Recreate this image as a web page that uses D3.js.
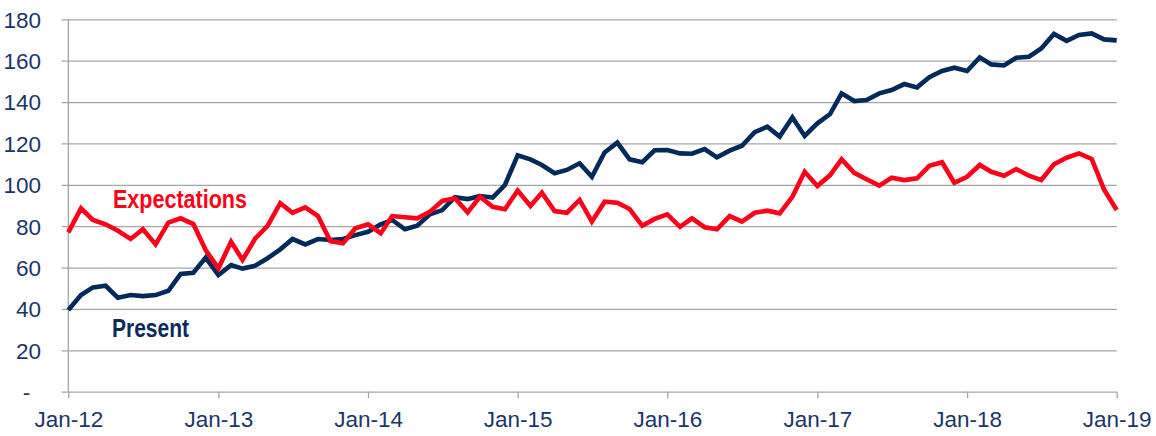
<!DOCTYPE html>
<html>
<head>
<meta charset="utf-8">
<script src="https://cdn.jsdelivr.net/npm/d3@7"></script>
<style>
  html, body { margin: 0; padding: 0; background: #fff; }
  svg { display: block; }
  .tick-label { font-family: "Liberation Sans Narrow", "Arial Narrow", "Liberation Sans", sans-serif; }
</style>
</head>
<body>
<svg id="chart" width="1156" height="436"></svg>
<script>
// ---- Data ----
const startYear = 2012;
const startMonth = 0;
const monthCount = 85; // Jan-12 .. Jan-19

const presentValues = [
  39.5, 46.7, 50.4, 51.2, 45.4, 46.7, 46.2, 46.7, 48.8, 56.9, 57.5, 64.8,
  56.4, 61.2, 59.5, 60.9, 64.5, 68.8, 73.8, 71.2, 73.8, 73.3, 73.8, 75.7,
  77.3, 80.9, 83.0, 78.5, 80.2, 85.7, 87.8, 94.0, 93.1, 94.6, 93.8, 99.9,
  114.3, 112.3, 109.6, 105.6, 107.2, 110.4, 103.9, 115.6, 120.4, 112.3, 110.9, 116.7,
  116.8, 115.2, 115.0, 117.3, 113.3, 116.5, 118.9, 125.4, 128.1, 123.3, 132.6, 123.6,
  129.7, 134.2, 144.2, 140.5, 141.0, 144.2, 145.8, 148.7, 147.1, 152.0, 155.0, 156.6,
  155.0, 161.6, 158.2, 157.7, 161.4, 161.9, 165.9, 172.9, 169.6, 172.4, 173.2, 170.3,
  169.8
];

const expectationsValues = [
  77.0, 88.6, 83.0, 80.9, 77.8, 73.8, 78.5, 71.2, 81.7, 83.8, 81.0, 68.5,
  59.6, 72.5, 63.7, 74.1, 80.2, 91.1, 86.5, 89.1, 84.9, 72.8, 71.7, 79.0,
  80.9, 76.6, 84.9, 84.3, 83.8, 87.0, 92.2, 93.5, 86.7, 94.2, 89.4, 88.2,
  97.2, 89.8, 96.2, 87.3, 86.5, 92.7, 82.2, 91.8, 91.3, 88.3, 80.2, 83.5,
  85.7, 79.7, 83.8, 79.5, 78.5, 84.9, 82.2, 86.5, 87.5, 86.2, 94.2, 106.3,
  99.4, 104.7, 112.3, 105.8, 102.7, 99.6, 103.4, 102.3, 103.1, 109.2, 110.9, 101.0,
  103.9, 109.6, 106.3, 104.4, 107.6, 104.4, 102.3, 109.9, 113.1, 115.2, 112.5, 97.8,
  87.8
];

const yTickValues = [0, 20, 40, 60, 80, 100, 120, 140, 160, 180];
const xTickLabels = ["Jan-12", "Jan-13", "Jan-14", "Jan-15", "Jan-16", "Jan-17", "Jan-18", "Jan-19"];

const seriesNames = ["Present", "Expectations"];

// ---- Layout ----
const W = 1156, H = 436;
const margin = { top: 19.3, right: 39.3, bottom: 44.3, left: 68.3 };
const innerW = W - margin.left - margin.right;
const innerH = H - margin.top - margin.bottom;

const navy = "#002a5c";
const red = "#ff0018";
const textNavy = "#1a3668";
const gridColor = "#a6a6a6";

const dates = d3.range(monthCount).map(i => new Date(startYear, startMonth + i, 1));
const xTickDates = xTickLabels.map((_, i) => new Date(startYear + i, 0, 1));

const svg = d3.select("#chart");
const g = svg.append("g").attr("transform", `translate(${margin.left},${margin.top})`);

const x = d3.scaleTime().domain([dates[0], dates[dates.length - 1]]).range([0, innerW]);
const y = d3.scaleLinear().domain([0, 180]).range([innerH, 0]);

// Gridlines + y axis
const yAxis = d3.axisLeft(y)
  .tickValues(yTickValues)
  .tickSize(-innerW)
  .tickSizeOuter(0)
  .tickPadding(27)
  .tickFormat(d => d === 0 ? "-" : d);

const yG = g.append("g").call(yAxis);
yG.select(".domain").remove();
yG.selectAll(".tick line")
  .attr("x1", -6.6)
  .attr("stroke", gridColor)
  .attr("stroke-width", 1.3);
yG.selectAll(".tick text")
  .attr("class", "tick-label")
  .attr("fill", textNavy)
  .attr("font-size", 22.5)
  .attr("dy", "0.35em")
  .attr("x", d => d === 0 ? -38 : -27.3);

// y axis vertical line
g.append("line")
  .attr("x1", 0).attr("x2", 0)
  .attr("y1", 0).attr("y2", innerH)
  .attr("stroke", gridColor)
  .attr("stroke-width", 1.3);

// x axis
const xAxis = d3.axisBottom(x)
  .tickValues(xTickDates)
  .tickSize(6.5)
  .tickSizeOuter(0)
  .tickPadding(13)
  .tickFormat((d, i) => xTickLabels[i]);

const xG = g.append("g").attr("transform", `translate(0,${innerH})`).call(xAxis);
xG.select(".domain").remove();
xG.selectAll(".tick line").attr("stroke", gridColor).attr("stroke-width", 1.3);
xG.selectAll(".tick text")
  .attr("class", "tick-label")
  .attr("fill", textNavy)
  .attr("font-size", 22.5)
  .attr("dy", "0.71em");

// Lines
const line = d3.line()
  .x((d, i) => x(dates[i]))
  .y(d => y(d))
  .curve(d3.curveLinear);

g.append("path")
  .datum(presentValues)
  .attr("fill", "none")
  .attr("stroke", navy)
  .attr("stroke-width", 4.6)
  .attr("stroke-linejoin", "miter")
  .attr("d", line);

g.append("path")
  .datum(expectationsValues)
  .attr("fill", "none")
  .attr("stroke", red)
  .attr("stroke-width", 4.6)
  .attr("stroke-linejoin", "miter")
  .attr("d", line);

// Series labels
svg.append("text")
  .attr("x", 113)
  .attr("y", 208.3)
  .attr("fill", red)
  .attr("font-family", "'Liberation Sans Narrow', 'Arial Narrow', 'Liberation Sans', sans-serif")
  .attr("font-weight", "bold")
  .attr("font-size", 25)
  .attr("textLength", 134)
  .attr("lengthAdjust", "spacingAndGlyphs")
  .text(seriesNames[1]);

svg.append("text")
  .attr("x", 112)
  .attr("y", 337.3)
  .attr("fill", "#0a2a5e")
  .attr("font-family", "'Liberation Sans Narrow', 'Arial Narrow', 'Liberation Sans', sans-serif")
  .attr("font-weight", "bold")
  .attr("font-size", 25)
  .attr("textLength", 77)
  .attr("lengthAdjust", "spacingAndGlyphs")
  .text(seriesNames[0]);
</script>
</body>
</html>
